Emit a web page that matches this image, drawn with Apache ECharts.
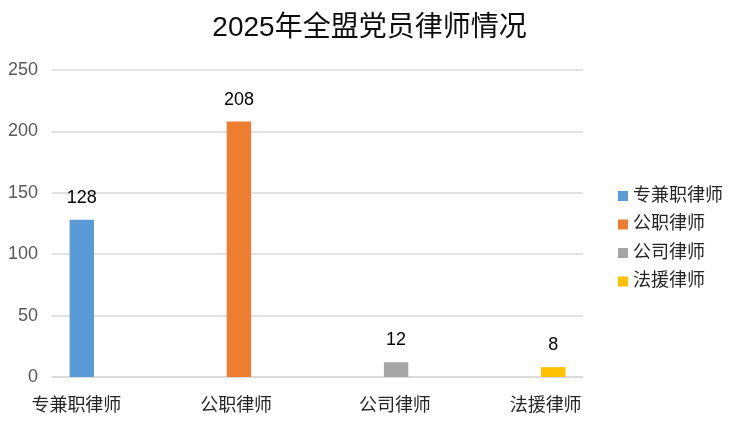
<!DOCTYPE html>
<html>
<head>
<meta charset="utf-8">
<script src="https://cdn.jsdelivr.net/npm/echarts@6/dist/echarts.min.js"></script>
<style>html,body{margin:0;padding:0;background:#fff}#c{width:739px;height:431px}</style>
</head>
<body>
<div id="c"></div>
<script>
const title = '2025年全盟党员律师情况';
const categories = ['专兼职律师', '公职律师', '公司律师', '法援律师'];
const seriesNames = ['专兼职律师', '公职律师', '公司律师', '法援律师'];
const seriesValues = [
  [128, '-', '-', '-'],
  ['-', 208, '-', '-'],
  ['-', '-', 12, '-'],
  ['-', '-', '-', 8]
];
const yTicks = { min: 0, max: 250, interval: 50 };
const colors = ['#5B9BD5', '#ED7D31', '#A5A5A5', '#FFC000'];
const FONT = '"Liberation Sans", "Noto Sans CJK SC", sans-serif';

const labelShift = [[0, 84, 0, 0], [0, 30, 0, 0], [0, 0, 0, 22], [0, 0, 0, 58]];
const rich = {};
labelShift.forEach((p, i) => {
  rich['c' + i] = { padding: p, fontSize: 18, color: '#262626', fontFamily: FONT };
});

const chart = echarts.init(document.getElementById('c'));
chart.setOption({
  backgroundColor: '#ffffff',
  animation: false,
  color: colors,
  title: {
    text: title,
    left: 'center',
    top: 9,
    textStyle: { fontSize: 28, fontWeight: 'normal', color: '#0d0d0d', fontFamily: FONT }
  },
  legend: {
    orient: 'vertical',
    left: 613,
    top: 182,
    itemWidth: 10,
    itemHeight: 10,
    itemGap: 10.5,
    icon: 'rect',
    data: seriesNames,
    textStyle: { fontSize: 18, color: '#262626', fontFamily: FONT }
  },
  grid: { left: 52, right: 156, top: 70, bottom: 54 },
  xAxis: {
    type: 'category',
    data: categories,
    axisLine: { lineStyle: { color: '#d9d9d9', width: 1.5 } },
    axisTick: { show: false },
    axisLabel: {
      margin: 20,
      interval: 0,
      formatter: (v, i) => '{c' + i + '|' + v + '}',
      rich: rich
    }
  },
  yAxis: {
    type: 'value',
    min: yTicks.min,
    max: yTicks.max,
    interval: yTicks.interval,
    axisLine: { show: false },
    axisTick: { show: false },
    axisLabel: { margin: 14, fontSize: 18, color: '#595959', fontFamily: FONT },
    splitLine: { lineStyle: { color: '#d9d9d9', width: 1.5 } }
  },
  series: seriesNames.map((n, i) => ({
    name: n,
    type: 'bar',
    data: seriesValues[i],
    barWidth: 24.4,
    barGap: '0%',
    label: {
      show: true,
      position: 'top',
      distance: 13,
      fontSize: 18,
      color: '#000000',
      fontFamily: FONT
    }
  }))
});
</script>
</body>
</html>
